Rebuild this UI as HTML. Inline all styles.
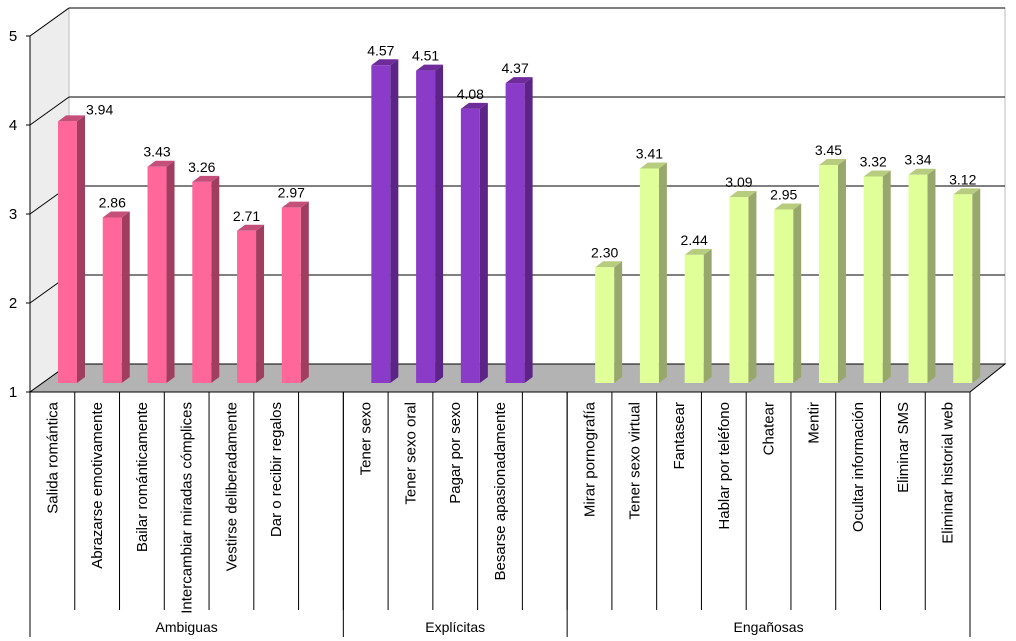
<!DOCTYPE html>
<html><head><meta charset="utf-8"><style>
body{margin:0;background:#fff}
svg{display:block;font-family:"Liberation Sans",Arial,sans-serif}
</style></head><body>
<svg id="chart" width="1016" height="641" viewBox="0 0 1016 641" xmlns="http://www.w3.org/2000/svg">
<g id="frame"></g>
<g id="bars"></g>
<g id="labels"></g>
</svg>
<script>
const categories=["Salida romántica","Abrazarse emotivamente","Bailar románticamente","Intercambiar miradas cómplices","Vestirse deliberadamente","Dar o recibir regalos",null,"Tener sexo","Tener sexo oral","Pagar por sexo","Besarse apasionadamente",null,"Mirar pornografía","Tener sexo virtual","Fantasear","Hablar por teléfono","Chatear","Mentir","Ocultar información","Eliminar SMS","Eliminar historial web"];
const values=[3.94,2.86,3.43,3.26,2.71,2.97,null,4.57,4.51,4.08,4.37,null,2.30,3.41,2.44,3.09,2.95,3.45,3.32,3.34,3.12];
const groups=["Ambiguas","Explícitas","Engañosas"];
const groupSizes=[7,5,9];
const yTicks=[1,2,3,4,5];

const NS="http://www.w3.org/2000/svg";
function mk(tag,attrs,parent){const e=document.createElementNS(NS,tag);for(const k in attrs)e.setAttribute(k,attrs[k]);parent.appendChild(e);return e;}
const X0=30,X1=970,Y1=392,UNIT=89,DX=39,DY=28;
const slotW=(X1-X0)/categories.length;
function yFront(v){return Y1-(v-1)*UNIT;}
function xSlot(i){return X0+i*slotW;}
const frame=document.getElementById('frame');
let e=mk('polygon',{points:`${X0},${yFront(5)} ${X0+DX},${yFront(5)-DY} ${X0+DX},${Y1-DY} ${X0},${Y1}`,fill:'#ededed',stroke:'#999','stroke-width':1},frame);

e=mk('rect',{x:X0+DX,y:yFront(5)-DY,width:X1+35-(X0+DX),height:(5-1)*UNIT,fill:'#fff',stroke:'#bbb','stroke-width':1},frame);

yTicks.forEach(t=>{
  const y=yFront(t);
  if(t>1){
    const g=mk('line',{x1:X0+DX,y1:y-DY,x2:X1+35,y2:y-DY,stroke:'#000','stroke-width':1},frame);
    
    const d=mk('line',{x1:X0,y1:y,x2:X0+DX,y2:y-DY,stroke:'#000','stroke-width':1},frame);
    
  }
  const tk=mk('line',{x1:X0-4,y1:y,x2:X0,y2:y,stroke:'#000'},frame);
  
  const tx=mk('text',{x:13,y:y+5,'font-size':15,'text-anchor':'middle'},frame);tx.textContent=t;
  
});
e=mk('polygon',{points:`${X0},${Y1} ${X1},${Y1} ${X1+35},${Y1-DY} ${X0+DX},${Y1-DY}`,fill:'#b3b3b3',stroke:'#000','stroke-width':1},frame);

e=mk('line',{x1:X0,y1:yFront(5),x2:X0,y2:Y1,stroke:'#000'},frame);

const colors=[['#ff6699','#a03e60','#c4507a'],['#8a3cc8','#5c2486','#6e2b9a'],['#e0ff99','#98a86c','#b8cc80']];
const bars=document.getElementById('bars');
const groupOf=[];groupSizes.forEach((s,g)=>{for(let k=0;k<s;k++)groupOf.push(g);});
const BASE=383,W=19,SD=8,SU=6;
values.forEach((v,i)=>{
  if(v==null)return;
  const c=colors[groupOf[i]];
  const x=xSlot(i)+28,top=BASE-(v-1)*UNIT;
  const b=mk('g',{},bars);
  
  mk('polygon',{points:`${x+W},${top} ${x+W+SD},${top-SU} ${x+W+SD},${BASE-SU} ${x+W},${BASE}`,fill:c[1]},b);
  mk('polygon',{points:`${x},${top} ${x+SD},${top-SU} ${x+W+SD},${top-SU} ${x+W},${top}`,fill:c[2]},b);
  mk('rect',{x:x,y:top,width:W,height:BASE-top,fill:c[0]},b);
  const first=(i===0);
  const t=mk('text',{x:first?x+W+SD+1:x+W/2,y:first?top-7:top-10,'font-size':14,'text-anchor':first?'start':'middle'},bars);
  t.textContent=v.toFixed(2);
  
});
const lab=document.getElementById('labels');
categories.forEach((c,i)=>{
  const l=mk('line',{x1:xSlot(i+1),y1:Y1,x2:xSlot(i+1),y2:610,stroke:'#000'},lab);
  
  if(c==null)return;
  const cx=xSlot(i)+slotW/2+5;
  const t=mk('text',{x:0,y:0,'font-size':15,'text-anchor':'end',transform:`translate(${cx},402) rotate(-90)`},lab);
  t.textContent=c;
  
});
let s=0;
const gb=mk('line',{x1:X0,y1:Y1,x2:X0,y2:637,stroke:'#000'},lab);

groups.forEach((g,k)=>{
  const a=xSlot(s),b2=xSlot(s+groupSizes[k]);s+=groupSizes[k];
  const l=mk('line',{x1:b2,y1:Y1,x2:b2,y2:637,stroke:'#000'},lab);
  
  const t=mk('text',{x:(a+b2)/2,y:632,'font-size':14,'text-anchor':'middle'},lab);
  t.textContent=g;
  
});
</script>
</body></html>
